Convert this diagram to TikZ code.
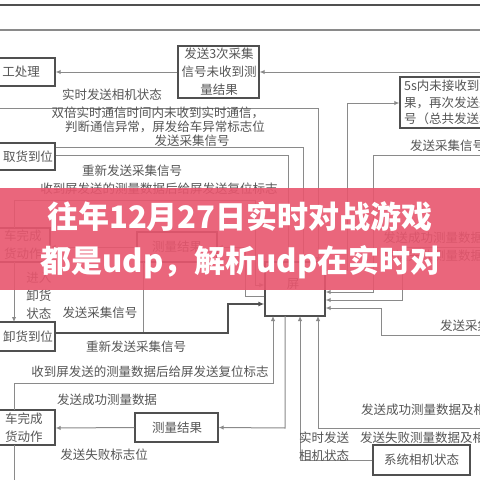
\documentclass[tikz,border=0pt]{standalone}
\usepackage{fontspec}
\newfontfamily\cjk{Noto Sans CJK SC}
\usetikzlibrary{arrows.meta}
\definecolor{boxc}{HTML}{505050}
\definecolor{linec}{HTML}{8A8A8A}
\definecolor{txtc}{HTML}{555555}
\definecolor{bannerc}{HTML}{E8566E}
\begin{document}
\begin{tikzpicture}[x=1pt,y=-1pt,
  box/.style={draw=boxc, line width=1.4pt, inner sep=0pt},
  ln/.style={draw=linec, line width=1pt},
  thickln/.style={draw=boxc, line width=1.4pt},
  arr/.style={ln, -{Latex[length=5pt,width=4.5pt]}},
  thickarr/.style={thickln, -{Latex[length=6pt,width=5pt]}},
  lbl/.style={font=\cjk\fontsize{12.5}{18}\selectfont, text=txtc, inner sep=0pt, align=center},
  lbll/.style={lbl, anchor=west, align=left},
  banner/.style={font=\cjk\bfseries\fontsize{31}{31}\selectfont, text=white, inner sep=0pt}
  ]
\useasboundingbox (0,0) rectangle (480,480);
\fill[white] (0,0) rectangle (480,480);
\begin{scope}
\clip (0,0) rectangle (480,480);
% ---------- boxes ----------
\node[box, minimum width=85, minimum height=28] (gong) at (12.5,72) {};
\node[box, minimum width=81, minimum height=52] (san) at (218.5,72) {};
\node[box, minimum width=100, minimum height=51] (five) at (450,102.5) {};
\node[box, minimum width=85, minimum height=27] (qu) at (12.5,156.5) {};
\node[box, minimum width=80, minimum height=34] (wanqu) at (10,245) {};
\node[box, minimum width=80, minimum height=30] (ce1) at (177,247) {};
\node[box, minimum width=60, minimum height=54] (ping) at (295,289) {};
\node[box, minimum width=85, minimum height=29] (xie) at (12.5,336.5) {};
\node[box, minimum width=85, minimum height=35] (wanxie) at (12.5,427.5) {};
\node[box, minimum width=83, minimum height=29] (ce2) at (176.5,427.5) {};
\node[box, minimum width=97, minimum height=30] (xitong) at (421.5,460) {};
% ---------- free ends ----------
\coordinate (eTop1) at (0,5);  \coordinate (eTop1r) at (480,5);
\coordinate (eTop2) at (0,30); \coordinate (eTop2r) at (480,30);
\coordinate (eR72) at (480,72);
\coordinate (eL108) at (0,108);
\coordinate (eR155) at (480,155);
\coordinate (eR247) at (480,247);
\coordinate (eR335) at (480,335);
\coordinate (eR428) at (480,428);
\coordinate (eB) at (14,480);
% ---------- connectors ----------
\draw[draw=boxc, line width=2pt] (eTop1) -- (eTop1r);
\draw[ln, line width=1.3pt] (eTop2) -- (eTop2r);
\draw[arr] (eR72) -- (san.east);
\draw[arr] (san.west) -- (gong.east);
\draw[arr] (eL108) -- (318,108) -- (318,262);
\draw[arr] (ping.east |- 0,270) -- (347,270) -- (347,103) -- (five.west |- 0,103);
\draw[arr] (eR155) -- (373,155) -- (373,292) -- (ping.east |- 0,292);
\draw[arr] (eR247) -- (402,247) -- (402,300) -- (ping.east |- 0,300);
\draw[arr] (eR335) -- (381,335) -- (381,308) -- (ping.east |- 0,308);
\draw[arr] (qu.east |- 0,147) -- (303,147) -- (303,262);
\draw[arr] (qu.east |- 0,155) -- (288,155) -- (288,262);
\draw[arr] (14,228) -- (14,200) -- (255,200) -- (255,285) -- (ping.west |- 0,285);
\draw[arr] (ping.west |- 0,296) -- (245,296) -- (245,247) -- (ce1.east);
\draw[arr] (ce1.west) -- (wanqu.east |- 0,247);
\draw[arr] (14,262) -- (14,322);
\draw[ln] (143,262) -- (143,333);
\draw[thickarr] (xie.east |- 0,333) -- (228,333) -- (228,304) -- (ping.west |- 0,304);
\draw[arr] (14,410) -- (14,383) -- (273,383) -- (273,316);
\draw[arr] (285,316) -- (285,428) -- (ce2.east);
\draw[arr] (ce2.west) -- (wanxie.east |- 0,428);
\draw[arr] (xitong.west) -- (300,460) -- (300,316);
\draw[arr] (eR428) -- (318,428) -- (318,316);
\draw[ln] (14,445) -- (eB);
% ---------- texts ----------
\node[lbl] at (21,72) {工处理};
\node[lbl, align=center] at (219,72) {发送3次采集\\信号未收到测\\量结果};
\node[lbll, font=\cjk\fontsize{12.5}{16.5}\selectfont] at (404,102.5) {5s内未接收到测量结\\果，再次发送采集信\\号（总共发送3次）};
\node[lbl] at (112,95) {实时发送相机状态};
\node[lbl] at (158,113) {双倍实时通信时间内未收到实时通信，};
\node[lbl] at (165,127) {判断通信异常，屏发给车异常标志位};
\node[lbl] at (192,141) {发送采集信号};
\node[lbll] at (410,146) {发送采集信号};
\node[lbl] at (28,157) {取货到位};
\node[lbl] at (132,171) {重新发送采集信号};
\node[lbl] at (159,189) {收到屏发送的测量数据后给屏发送复位标志};
\node[lbl] at (23,245) {车完成\\货动作};
\node[lbl] at (177,247) {测量结果};
\node[lbll] at (383,238) {发送成功测量数据及相机};
\node[lbll] at (383,256) {发送失败测量数据及相机};
\node[lbl] at (293,284) {屏};
\node[lbl] at (39,296) {进入\\卸货\\状态};
\node[lbl] at (100,313) {发送采集信号};
\node[lbll] at (440,326) {发送采集信号};
\node[lbl] at (28,337) {卸货到位};
\node[lbl] at (136,347) {重新发送采集信号};
\node[lbl] at (150,372) {收到屏发送的测量数据后给屏发送复位标志};
\node[lbl] at (107,400) {发送成功测量数据};
\node[lbll] at (361,410) {发送成功测量数据及相机};
\node[lbl] at (24,428) {车完成\\货动作};
\node[lbl] at (177,428) {测量结果};
\node[lbll] at (360,438) {发送失败测量数据及相机};
\node[lbl] at (324,447) {实时发送\\相机状态};
\node[lbl] at (104,455) {发送失败标志位};
\node[lbl] at (421.5,460) {系统相机状态};
% ---------- banner ----------
\fill[bannerc, opacity=0.9] (0,188) rectangle (480,290);
\node[banner] (t1) at (240,216) {往年12月27日实时对战游戏};
\node[banner] (t2) at (241,262) {都是udp，解析udp在实时对};
\end{scope}
\end{tikzpicture}
\end{document}
